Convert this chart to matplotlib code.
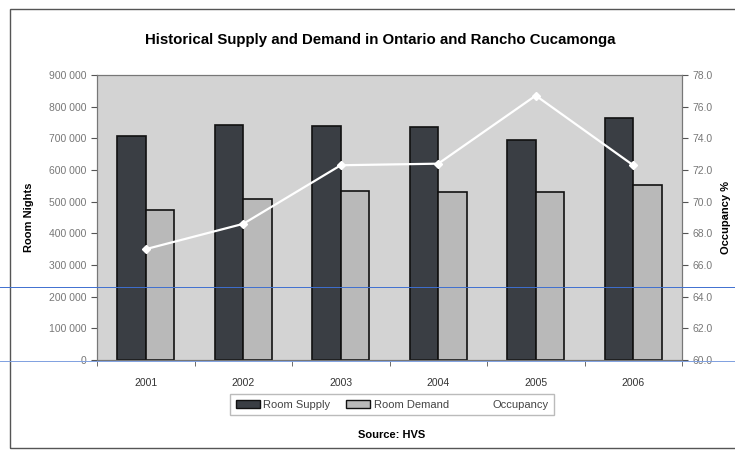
import matplotlib
matplotlib.use("Agg")
import matplotlib.pyplot as plt
import numpy as np
from matplotlib.patches import Rectangle
from matplotlib.lines import Line2D
from matplotlib.ticker import FuncFormatter

years = ["2001", "2002", "2003", "2004", "2005", "2006"]
room_supply = [707000, 742000, 739000, 736000, 695000, 764000]
room_demand = [474000, 508000, 534000, 530000, 530000, 553000]
occupancy = [67.0, 68.6, 72.3, 72.4, 76.7, 72.3]

plt.rcParams['font.family'] = ['Liberation Sans', 'DejaVu Sans']

fig = plt.figure(figsize=(7.35, 4.5), dpi=100)
fig.patch.set_facecolor('white')

# outer frame
fig.add_artist(Rectangle((10/735, 1-448/450), 740/735, (448-9)/450, transform=fig.transFigure,
                         fill=False, edgecolor='#555555', linewidth=1.0))

ax = fig.add_axes([97/735, 1-360/450, (682-97)/735, (360-75)/450])
ax.set_facecolor('#d3d3d3')
x = np.arange(len(years))
w = 0.29
ax.bar(x - w/2, room_supply, width=w, color='#3a3e44', edgecolor='#111111', linewidth=1.2, label='Room Supply')
ax.bar(x + w/2, room_demand, width=w, color='#b9b9b9', edgecolor='#111111', linewidth=1.2, label='Room Demand')
ax.set_xlim(-0.5, len(years) - 0.5)
ax.set_ylim(0, 900000)
ax.set_yticks(np.arange(0, 900001, 100000))
ax.yaxis.set_major_formatter(FuncFormatter(lambda v, p: f"{int(v):,}".replace(",", " ")))
ax.set_xticks(x)
ax.set_xticklabels(years)
ax.set_xticks(np.arange(-0.5, len(years)), minor=True)
ax.tick_params(axis='x', which='major', length=0, pad=13, labelsize=7.5, colors='#333333')
ax.tick_params(axis='x', which='minor', length=4, color='#555555')
ax.tick_params(axis='y', labelsize=7.5, colors='#777777', length=4, color='#555555')
for s in ax.spines.values():
    s.set_color('#777777')
ax.set_ylabel('Room Nights', fontsize=8, fontweight='bold', labelpad=11)

ax2 = ax.twinx()
ax2.plot(x, occupancy, color='white', linewidth=1.6, marker='D', markersize=4,
         markerfacecolor='white', markeredgecolor='white', label='Occupancy')
ax2.set_ylim(60, 78)
ax2.set_yticks(np.arange(60, 78.1, 2))
ax2.yaxis.set_major_formatter(FuncFormatter(lambda v, p: f"{v:.1f}"))
ax2.tick_params(axis='y', labelsize=7.5, colors='#777777', length=4, color='#555555')
for s in ax2.spines.values():
    s.set_color('#777777')
ax2.set_ylabel('Occupancy %', fontsize=8, fontweight='bold', rotation=90, labelpad=6)

fig.text(380/735, 1-40/450, 'Historical Supply and Demand in Ontario and Rancho Cucamonga',
         ha='center', va='center', fontsize=10.8, fontweight='bold')

handles = [Rectangle((0, 0), 1, 1, facecolor='#3a3e44', edgecolor='#111111'),
           Rectangle((0, 0), 1, 1, facecolor='#b9b9b9', edgecolor='#111111'),
           Line2D([0], [0], color='white', linewidth=2)]
leg = fig.legend(handles, ['Room Supply', 'Room Demand', 'Occupancy'], loc='center',
                 bbox_to_anchor=(392/735, 1-404.5/450), ncol=3, fontsize=8,
                 frameon=True, fancybox=False, edgecolor='#aaaaaa', handlelength=2.2,
                 handletextpad=0.3, columnspacing=1.4, borderpad=0.5)
for t in leg.get_texts():
    t.set_color('#444444')

fig.text(392/735, 1-435/450, 'Source: HVS', ha='center', va='center', fontsize=8, fontweight='bold')

# scan artifact lines
fig.add_artist(Line2D([0, 1], [1-287/450, 1-287/450], transform=fig.transFigure, color='#3f6fd0', linewidth=0.7))
fig.add_artist(Line2D([0, 1], [1-361/450, 1-361/450], transform=fig.transFigure, color='#7fa0e0', linewidth=0.7))

fig.savefig('out.png', dpi=100)
